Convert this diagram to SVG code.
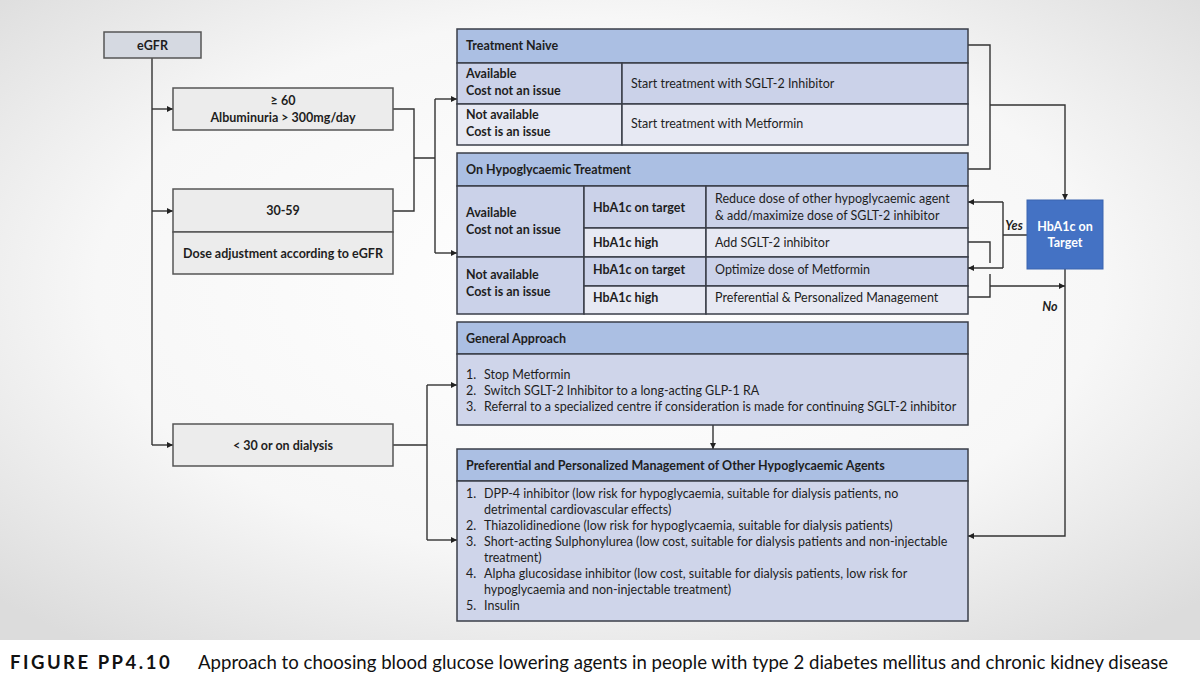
<svg xmlns="http://www.w3.org/2000/svg" width="1200" height="687" viewBox="0 0 1200 687">
<defs>
<radialGradient id="bg" cx="50%" cy="45%" r="70%">
<stop offset="0" stop-color="#ffffff"/>
<stop offset="0.6" stop-color="#f7f7f7"/>
<stop offset="1" stop-color="#dcdcdc"/>
</radialGradient>
<marker id="ah" viewBox="0 0 10 10" refX="10" refY="5" markerWidth="7" markerHeight="6" markerUnits="userSpaceOnUse" orient="auto">
<path d="M0,0 L10,5 L0,10 z" fill="#222"/>
</marker>
<style>
.t{font-family:Lato,"Liberation Sans",sans-serif;font-size:12.5px;fill:#1e1e1e}
.b{font-weight:bold}
.m{text-anchor:middle}
.box{fill:#ececec;stroke:#555;stroke-width:1.5}
.hd{fill:#abbfe3;stroke:#3a3e48;stroke-width:1.5}
.b1{fill:#cbd2e9;stroke:#3a3e48;stroke-width:1.5}
.b2{fill:#e7e9f3;stroke:#3a3e48;stroke-width:1.5}
.bd{fill:#cfd5ea;stroke:#3a3e48;stroke-width:1.5}
.ln{fill:none;stroke:#333;stroke-width:1.4}
.ar{fill:none;stroke:#333;stroke-width:1.4;marker-end:url(#ah)}
.cap{font-family:Lato,"Liberation Sans",sans-serif;fill:#111}
</style>
</defs>
<rect x="0" y="0" width="1200" height="640" fill="url(#bg)"/>
<rect x="0" y="640" width="1200" height="47" fill="#ffffff"/>

<g id="connectors">
<path class="ln" d="M152,58 V445"/>
<path class="ar" d="M152,109 H173"/>
<path class="ar" d="M152,211 H173"/>
<path class="ar" d="M152,445 H173"/>
<path class="ln" d="M393,109 H414 V211 H393"/>
<path class="ln" d="M414,158 H435 M435,99 V253"/>
<path class="ar" d="M435,99 H457"/>
<path class="ar" d="M435,253 H457"/>
<path class="ln" d="M393,445 H427 M427,385 V540"/>
<path class="ar" d="M427,385 H457"/>
<path class="ar" d="M427,540 H457"/>
<path class="ln" d="M968,45 H990 V169 H968"/>
<path class="ar" d="M990,105 H1065 V200"/>
<path class="ln" d="M1027,235 H1003 M1003,202 V268"/>
<path class="ar" d="M1003,202 H968"/>
<path class="ar" d="M1003,268 H968"/>
<path class="ln" d="M968,242 H990 V263 M990,274 V297 H968"/>
<path class="ar" d="M990,286 H1065"/>
<path class="ar" d="M1065,269 V536 H968"/>
<path class="ar" d="M713,425 V449"/>
<text class="t b" x="1014" y="230" text-anchor="middle" font-style="italic">Yes</text>
<text class="t b" x="1050" y="311" text-anchor="middle" font-style="italic">No</text>
</g>

<g id="egfr">
<rect x="104" y="32" width="97" height="26" fill="#d5d9e1" stroke="#555" stroke-width="1.5"/>
<text class="t b m" x="152.5" y="49.5">eGFR</text>
</g>

<g id="ge60">
<rect class="box" x="173" y="88" width="220" height="42"/>
<text class="t b m" x="283" y="105">≥ 60</text>
<text class="t b m" x="283" y="122">Albuminuria &gt; 300mg/day</text>
</g>

<g id="r3059">
<rect class="box" x="173" y="189" width="220" height="43"/>
<rect class="box" x="173" y="232" width="220" height="42"/>
<text class="t b m" x="283" y="215">30-59</text>
<text class="t b m" x="283" y="257.5">Dose adjustment according to eGFR</text>
</g>

<g id="lt30">
<rect class="box" x="173" y="424" width="220" height="42"/>
<text class="t b m" x="283" y="449.5">&lt; 30 or on dialysis</text>
</g>

<g id="naive">
<rect class="hd" x="457" y="29" width="511" height="34"/>
<rect class="b1" x="457" y="63" width="165" height="41"/>
<rect class="b1" x="622" y="63" width="346" height="41"/>
<rect class="b2" x="457" y="104" width="165" height="41"/>
<rect class="b2" x="622" y="104" width="346" height="41"/>
<text class="t b" x="466" y="50">Treatment Naive</text>
<text class="t b" x="466" y="78">Available</text>
<text class="t b" x="466" y="95">Cost not an issue</text>
<text class="t" x="631" y="87.5">Start treatment with SGLT-2 Inhibitor</text>
<text class="t b" x="466" y="119">Not available</text>
<text class="t b" x="466" y="135.5">Cost is an issue</text>
<text class="t" x="631" y="127.5">Start treatment with Metformin</text>
</g>

<g id="hypo">
<rect class="hd" x="457" y="153" width="511" height="33"/>
<rect class="b1" x="457" y="186" width="127" height="71"/>
<rect class="b1" x="457" y="257" width="127" height="57"/>
<rect class="b1" x="584" y="186" width="122" height="42"/>
<rect class="b1" x="706" y="186" width="262" height="42"/>
<rect class="b2" x="584" y="228" width="122" height="29"/>
<rect class="b2" x="706" y="228" width="262" height="29"/>
<rect class="b1" x="584" y="257" width="122" height="29"/>
<rect class="b1" x="706" y="257" width="262" height="29"/>
<rect class="b2" x="584" y="286" width="122" height="28"/>
<rect class="b2" x="706" y="286" width="262" height="28"/>
<text class="t b" x="466" y="173.5">On Hypoglycaemic Treatment</text>
<text class="t b" x="466" y="216.5">Available</text>
<text class="t b" x="466" y="233.5">Cost not an issue</text>
<text class="t b" x="466" y="278.5">Not available</text>
<text class="t b" x="466" y="295.5">Cost is an issue</text>
<text class="t b" x="593" y="211.5">HbA1c on target</text>
<text class="t b" x="593" y="246.5">HbA1c high</text>
<text class="t b" x="593" y="273.5">HbA1c on target</text>
<text class="t b" x="593" y="302">HbA1c high</text>
<text class="t" x="715" y="202.5">Reduce dose of other hypoglycaemic agent</text>
<text class="t" x="715" y="219.5">&amp; add/maximize dose of SGLT-2 inhibitor</text>
<text class="t" x="715" y="246.5">Add SGLT-2 inhibitor</text>
<text class="t" x="715" y="273.5">Optimize dose of Metformin</text>
<text class="t" x="715" y="302">Preferential &amp; Personalized Management</text>
</g>

<g id="hba1c">
<rect x="1027" y="200" width="76" height="69" fill="#4472c4" stroke="#3a64b0" stroke-width="1"/>
<text class="t b m" x="1065" y="231" style="fill:#ffffff">HbA1c on</text>
<text class="t b m" x="1065" y="247" style="fill:#ffffff">Target</text>
</g>

<g id="general">
<rect class="hd" x="457" y="322" width="511" height="32"/>
<rect class="bd" x="457" y="354" width="511" height="71"/>
<text class="t b" x="466" y="342.5">General Approach</text>
<text class="t" x="466" y="378.5">1.</text><text class="t" x="484" y="378.5">Stop Metformin</text>
<text class="t" x="466" y="394.5">2.</text><text class="t" x="484" y="394.5">Switch SGLT-2 Inhibitor to a long-acting GLP-1 RA</text>
<text class="t" x="466" y="410.5">3.</text><text class="t" x="484" y="410.5">Referral to a specialized centre if consideration is made for continuing SGLT-2 inhibitor</text>
</g>

<g id="preferential">
<rect class="hd" x="457" y="449" width="511" height="32"/>
<rect class="bd" x="457" y="481" width="511" height="140"/>
<text class="t b" x="466" y="469.5">Preferential and Personalized Management of Other Hypoglycaemic Agents</text>
<text class="t" x="466" y="497.5">1.</text><text class="t" x="484" y="497.5">DPP-4 inhibitor (low risk for hypoglycaemia, suitable for dialysis patients, no</text>
<text class="t" x="484" y="513.5">detrimental cardiovascular effects)</text>
<text class="t" x="466" y="529.5">2.</text><text class="t" x="484" y="529.5">Thiazolidinedione (low risk for hypoglycaemia, suitable for dialysis patients)</text>
<text class="t" x="466" y="545.5">3.</text><text class="t" x="484" y="545.5">Short-acting Sulphonylurea (low cost, suitable for dialysis patients and non-injectable</text>
<text class="t" x="484" y="561.5">treatment)</text>
<text class="t" x="466" y="578">4.</text><text class="t" x="484" y="578">Alpha glucosidase inhibitor (low cost, suitable for dialysis patients, low risk for</text>
<text class="t" x="484" y="594">hypoglycaemia and non-injectable treatment)</text>
<text class="t" x="466" y="610">5.</text><text class="t" x="484" y="610">Insulin</text>
</g>

<g id="caption">
<text class="cap" x="10" y="669" font-size="18.5" font-weight="bold" letter-spacing="2.5">FIGURE PP4.10</text>
<text class="cap" x="198" y="669" font-size="18.6">Approach to choosing blood glucose lowering agents in people with type 2 diabetes mellitus and chronic kidney disease</text>
</g>
</svg>
